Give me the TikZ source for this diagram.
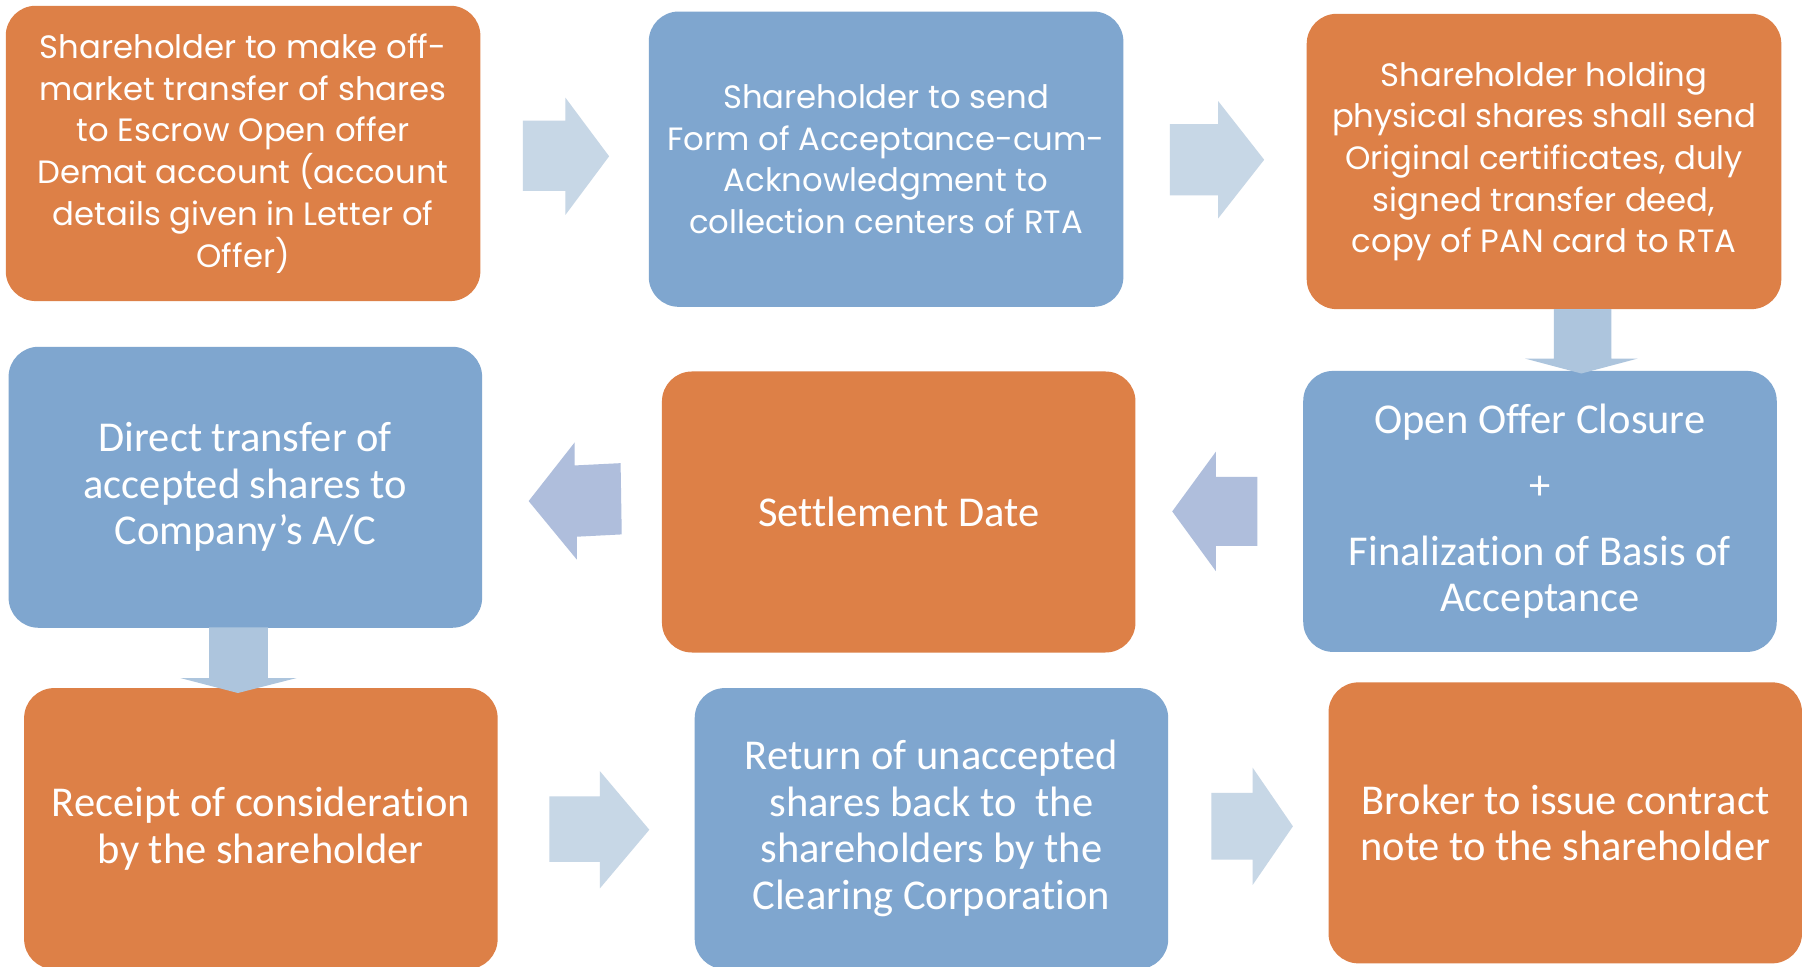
\documentclass[tikz,border=0pt]{standalone}
\usepackage{fontspec}
\setmainfont{Carlito}[Ligatures=NoCommon]
\newfontfamily\geofont{Poppins}
\definecolor{orangebox}{RGB}{221,128,71}
\definecolor{bluebox}{RGB}{127,166,207}
\definecolor{arrowR}{RGB}{199,215,230}
\definecolor{arrowD}{RGB}{173,197,221}
\definecolor{arrowL}{RGB}{175,190,220}
\begin{document}
\begin{tikzpicture}[x=1.1492pt,y=-1.1492pt,
  box/.style={rounded corners=30pt, align=center, text=white, inner sep=0pt},
  obox/.style={box, fill=orangebox},
  bbox/.style={box, fill=bluebox},
  toptext/.style={font=\geofont\fontsize{32.3}{41.7}\selectfont},
  lowtext/.style={font=\fontsize{42.5}{46.5}\selectfont},
  tw/.style={minimum width=474.6pt, minimum height=295.3pt},
  lw/.style={minimum width=473.5pt, minimum height=281pt},
  ]
\useasboundingbox (0,0) rectangle (1568,841);
\fill[white] (0,0) rectangle (1568,841);
\clip (0,0) rectangle (1568,841);

% boxes
\node[obox, tw, toptext] (b1) at (211.5,133.5) {Shareholder to make off-\\market transfer of shares\\to Escrow Open offer\\Demat account (account\\details given in Letter of\\Offer)};
\node[bbox, tw, toptext] (b2) at (771,138.5) {Shareholder to send\\Form of Acceptance-cum-\\Acknowledgment to\\collection centers of RTA};
\node[obox, tw, toptext] (b3) at (1343.5,140.5) {Shareholder holding\\physical shares shall send\\Original certificates, duly\\signed transfer deed,\\copy of PAN card to RTA};
\node[bbox, lw, lowtext] (b4) at (1340,445) {Open Offer Closure\\[19pt]+\\[19pt]Finalization of Basis of\\Acceptance};
\node[obox, lw, lowtext] (b5) at (782,445.5) {Settlement Date};
\node[bbox, lw, lowtext] (b6) at (213.5,424) {Direct transfer of\\accepted shares to\\Company’s A/C};
\node[obox, lw, lowtext] (b7) at (227,721) {Receipt of consideration\\by the shareholder};
\node[bbox, lw, lowtext] (b8) at (810.5,721) {Return of unaccepted\\shares back to~ the\\shareholders by the\\Clearing Corporation};
\node[obox, lw, lowtext] (b9) at (1362,716) {Broker to issue contract\\note to the shareholder};

% block arrows
\fill[arrowR] (455,105) -- (492,105) -- (492,85) -- (530,136) -- (492,187) -- (492,166) -- (455,166) -- cycle;
\fill[arrowR] (1018,108) -- (1060,108) -- (1060,88) -- (1100,139) -- (1060,190) -- (1060,170) -- (1018,170) -- cycle;
\fill[arrowD] (1352,269) -- (1402,269) -- (1402,312) -- (1425,312) -- (1376,325) -- (1327,312) -- (1352,312) -- cycle;
\fill[arrowL] (1094,415) -- (1058,415) -- (1058,393) -- (1020,445) -- (1058,497) -- (1058,475) -- (1094,475) -- cycle;
\fill[arrowL] (540,403) -- (500,405) -- (500,385) -- (460,436) -- (502,487) -- (502,467) -- (541,465) -- cycle;
\fill[arrowD] (182,546) -- (233,546) -- (233,590) -- (258,590) -- (207,603) -- (157,590) -- (182,590) -- cycle;
\fill[arrowR] (478,693) -- (522,693) -- (522,671) -- (565,722) -- (522,773) -- (522,750) -- (478,750) -- cycle;
\fill[arrowR] (1054,690) -- (1090,690) -- (1090,668) -- (1125,719) -- (1090,770) -- (1090,748) -- (1054,748) -- cycle;
\end{tikzpicture}
\end{document}
